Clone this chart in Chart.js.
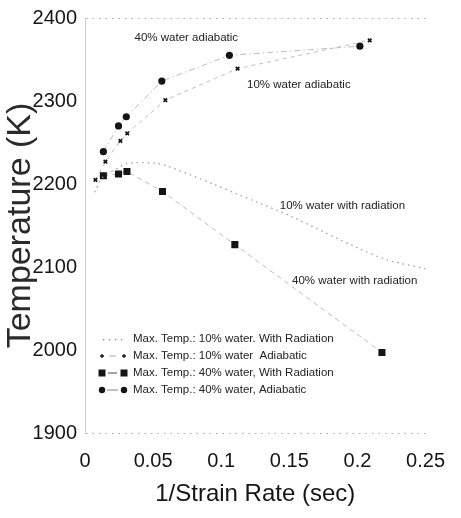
<!DOCTYPE html>
<html>
<head>
<meta charset="utf-8">
<script src="https://cdn.jsdelivr.net/npm/chart.js@4/dist/chart.umd.min.js"></script>
<style>
  html, body { margin: 0; background: #fff; }
  canvas { display: block; }
</style>
</head>
<body>
<canvas id="tempChart" width="461" height="518"></canvas>
<script>
// max temperature vs 1/strain rate
const rad10X = [0.007, 0.013, 0.025, 0.031, 0.052, 0.06, 0.094, 0.113, 0.125, 0.15, 0.2, 0.223, 0.25];
const rad10Y = [2190, 2208, 2220, 2225, 2225, 2222, 2200, 2187, 2179, 2162, 2123, 2108, 2098];

const adi10X = [0.0077, 0.015, 0.026, 0.031, 0.059, 0.112, 0.209];
const adi10Y = [2205, 2227, 2252, 2261, 2301, 2339, 2373];

const rad40X = [0.0135, 0.0246, 0.0308, 0.0569, 0.11, 0.218];
const rad40Y = [2210, 2212, 2215, 2191, 2127, 1997];

const adi40X = [0.0135, 0.0246, 0.0303, 0.0564, 0.106, 0.2018];
const adi40Y = [2239, 2270, 2281, 2324, 2355, 2366];

const seriesNames = [
  'Max. Temp.: 10% water. With Radiation',
  'Max. Temp.: 10% water  Adiabatic',
  'Max. Temp.: 40% water, With Radiation',
  'Max. Temp.: 40% water, Adiabatic'
];

const xTicks = [0, 0.05, 0.1, 0.15, 0.2, 0.25];
const yTicks = [1900, 2000, 2100, 2200, 2300, 2400];

// curve labels placed in data units
const noteText = ['40% water adiabatic', '10% water adiabatic', '10% water with radiation', '40% water with radiation'];
const noteX = [0.0744, 0.157, 0.189, 0.198];
const noteY = [2376, 2319, 2174, 2083];

const toPoints = (xs, ys) => xs.map((x, i) => ({ x, y: ys[i] }));

const INK = '#151515';
const LINE = '#bdbdbd';
const SANS = "'Liberation Sans', Arial, sans-serif";

const datasets = [
  {
    label: seriesNames[0],
    data: toPoints(rad10X, rad10Y),
    showLine: true,
    tension: 0.3,
    borderColor: '#9a9a9a',
    borderWidth: 1.2,
    borderDash: [1.5, 4],
    pointRadius: 0
  },
  {
    label: seriesNames[1],
    data: toPoints(adi10X, adi10Y),
    showLine: true,
    borderColor: LINE,
    borderWidth: 1,
    borderDash: [4, 4],
    pointStyle: 'crossRot',
    pointRadius: 2.5,
    pointBorderWidth: 1.6,
    pointBorderColor: INK,
    pointBackgroundColor: INK
  },
  {
    label: seriesNames[2],
    data: toPoints(rad40X, rad40Y),
    showLine: true,
    borderColor: LINE,
    borderWidth: 1,
    borderDash: [5, 4],
    pointStyle: 'rect',
    pointRadius: 5,
    pointBorderWidth: 0,
    pointBorderColor: INK,
    pointBackgroundColor: INK
  },
  {
    label: seriesNames[3],
    data: toPoints(adi40X, adi40Y),
    showLine: true,
    borderColor: LINE,
    borderWidth: 1,
    borderDash: [6, 3, 1.5, 3],
    pointStyle: 'circle',
    pointRadius: 3.6,
    pointBorderWidth: 0,
    pointBorderColor: INK,
    pointBackgroundColor: INK
  }
];

// text next to each curve
const curveNotes = {
  id: 'curveNotes',
  afterDatasetsDraw(chart) {
    const { ctx, scales } = chart;
    ctx.save();
    ctx.font = '11.5px ' + SANS;
    ctx.fillStyle = '#222';
    ctx.textAlign = 'center';
    ctx.textBaseline = 'middle';
    noteText.forEach((t, i) => {
      ctx.fillText(t, scales.x.getPixelForValue(noteX[i]), scales.y.getPixelForValue(noteY[i]));
    });
    ctx.restore();
  }
};

// legend box in the lower left of the plot
const innerLegend = {
  id: 'innerLegend',
  afterDatasetsDraw(chart) {
    const { ctx, chartArea } = chart;
    const x0 = chartArea.left + 16;
    const x1 = chartArea.left + 39;
    const textX = chartArea.left + 48;
    const rowY = [94, 77, 60, 43].map(d => chartArea.bottom - d);
    ctx.save();
    ctx.font = '11.5px ' + SANS;
    ctx.textBaseline = 'middle';
    ctx.textAlign = 'left';

    // dotted sample
    ctx.fillStyle = '#888';
    for (let k = 0; k < 4; k++) ctx.fillRect(x0 + 2 + k * 6, rowY[0], 1.3, 1.3);

    // cross sample
    ctx.strokeStyle = '#aaa';
    ctx.lineWidth = 1;
    ctx.beginPath();
    ctx.moveTo(x0 + 8, rowY[1]); ctx.lineTo(x1 - 8, rowY[1]);
    ctx.stroke();
    ctx.strokeStyle = INK;
    ctx.lineWidth = 1.3;
    [x0 + 1, x1].forEach(px => {
      ctx.beginPath();
      ctx.moveTo(px - 2, rowY[1]); ctx.lineTo(px + 2, rowY[1]);
      ctx.moveTo(px, rowY[1] - 2); ctx.lineTo(px, rowY[1] + 2);
      ctx.stroke();
    });

    // square sample
    ctx.strokeStyle = '#666';
    ctx.lineWidth = 1.2;
    ctx.beginPath();
    ctx.moveTo(x0 + 7, rowY[2]); ctx.lineTo(x1 - 7, rowY[2]);
    ctx.stroke();
    ctx.fillStyle = INK;
    [x0 + 1, x1].forEach(px => ctx.fillRect(px - 3.5, rowY[2] - 3.5, 7, 7));

    // circle sample
    ctx.strokeStyle = '#999';
    ctx.beginPath();
    ctx.moveTo(x0 + 6, rowY[3]); ctx.lineTo(x1 - 6, rowY[3]);
    ctx.stroke();
    [x0 + 1, x1].forEach(px => {
      ctx.beginPath();
      ctx.arc(px, rowY[3], 3.2, 0, Math.PI * 2);
      ctx.fill();
    });

    ctx.fillStyle = '#222';
    seriesNames.forEach((name, i) => ctx.fillText(name, textX, rowY[i]));
    ctx.restore();
  }
};

new Chart(document.getElementById('tempChart'), {
  type: 'scatter',
  data: { datasets },
  options: {
    responsive: false,
    animation: false,
    layout: { padding: { top: 13, right: 30, left: 0, bottom: 0 } },
    plugins: {
      legend: { display: false },
      tooltip: { enabled: false }
    },
    scales: {
      x: {
        type: 'linear',
        min: 0,
        max: 0.25,
        afterBuildTicks: s => { s.ticks = xTicks.map(v => ({ value: v })); },
        afterFit: s => { s.height = 85; },
        grid: { display: false, drawTicks: false },
        border: { display: false },
        ticks: {
          padding: 16,
          color: INK,
          font: { family: SANS, size: 20 },
          callback: v => String(+v.toFixed(2))
        },
        title: {
          display: true,
          text: '1/Strain Rate (sec)',
          color: INK,
          font: { family: SANS, size: 24 },
          padding: { top: 0, bottom: 9 }
        }
      },
      y: {
        type: 'linear',
        min: 1900,
        max: 2400,
        afterBuildTicks: s => { s.ticks = yTicks.map(v => ({ value: v })); },
        afterFit: s => { s.width = 85; },
        grid: {
          drawTicks: false,
          lineWidth: 1,
          color: c => (c.tick && (c.tick.value === 1900 || c.tick.value === 2400)) ? '#a8a8a8' : 'rgba(0,0,0,0)'
        },
        border: { display: true, color: '#d0d0d0', width: 1, dash: [1.5, 5] },
        ticks: {
          padding: 8,
          color: INK,
          font: { family: SANS, size: 20, lineHeight: 1 },
          callback: v => String(v)
        },
        title: {
          display: true,
          text: 'Temperature (K)',
          color: '#2a2a2a',
          font: { family: SANS, size: 34 },
          padding: { top: 0, bottom: 0 }
        }
      }
    }
  },
  plugins: [curveNotes, innerLegend]
});
</script>
</body>
</html>
